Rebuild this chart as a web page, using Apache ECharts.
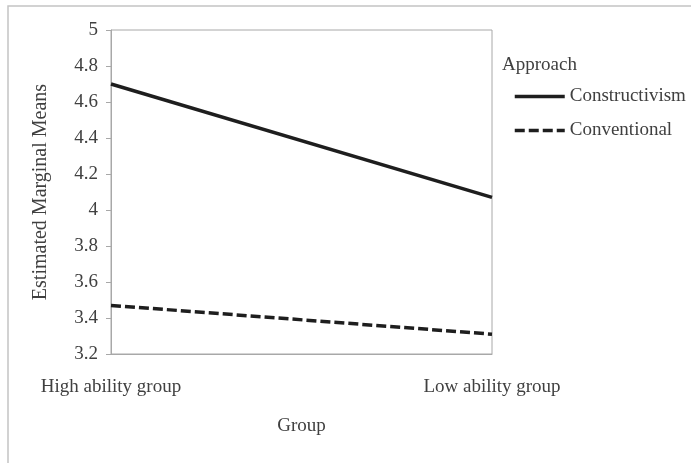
<!DOCTYPE html>
<html>
<head>
<meta charset="utf-8">
<script src="https://cdn.jsdelivr.net/npm/echarts@6/dist/echarts.min.js"></script>
<style>
html,body{margin:0;padding:0;background:#fff;}
#chart{width:691px;height:463px;}
</style>
</head>
<body>
<div id="chart"></div>
<script>
var categories = ['High ability group', 'Low ability group'];
var seriesNames = ['Constructivism', 'Conventional'];
var constructivism = [4.70, 4.07];
var conventional = [3.47, 3.31];
var yMin = 3.2, yMax = 5, yStep = 0.2;

var FONT = '"Liberation Serif", "Times New Roman", serif';
var TXT = '#404040';
var FS = 19;
var chart = echarts.init(document.getElementById('chart'), null, {renderer: 'canvas'});
chart.setOption({
  animation: false,
  backgroundColor: '#fff',
  textStyle: {fontFamily: FONT, color: TXT},
  graphic: [{
    type: 'rect', shape: {x: 8, y: 6, width: 700, height: 480},
    style: {fill: 'none', stroke: '#c4c4c4', lineWidth: 1.5}, z: -10
  }],
  title: {
    text: 'Approach', left: 497, top: 51,
    textStyle: {fontFamily: FONT, fontSize: FS, fontWeight: 'normal', color: TXT}
  },
  legend: {
    orient: 'vertical', left: 508, top: 82,
    itemWidth: 50, itemHeight: 14, itemGap: 15,
    textStyle: {fontFamily: FONT, fontSize: FS, color: TXT},
    itemStyle: {opacity: 0},
    lineStyle: {width: 3.5, color: '#1e1e1e'},
    data: seriesNames
  },
  grid: {
    left: 111, top: 30, right: 199, bottom: 109,
    show: true, borderColor: '#a8a8a8', borderWidth: 1, backgroundColor: 'transparent'
  },
  xAxis: {
    type: 'category', data: categories, boundaryGap: false,
    name: 'Group', nameLocation: 'middle', nameGap: 63,
    nameTextStyle: {fontFamily: FONT, fontSize: FS, color: TXT},
    axisLine: {lineStyle: {color: '#a8a8a8'}},
    axisTick: {show: false},
    axisLabel: {interval: 0, margin: 24, fontFamily: FONT, fontSize: FS, color: TXT}
  },
  yAxis: {
    type: 'value', min: yMin, max: yMax, interval: yStep,
    name: 'Estimated Marginal Means', nameLocation: 'middle', nameGap: 60,
    nameTextStyle: {fontFamily: FONT, fontSize: 20, color: TXT},
    axisLine: {show: true, lineStyle: {color: '#a8a8a8'}},
    axisTick: {show: true, length: 5, lineStyle: {color: '#a8a8a8'}},
    splitLine: {show: false},
    axisLabel: {margin: 13, fontFamily: FONT, fontSize: FS, color: TXT}
  },
  series: [{
    name: seriesNames[0], type: 'line', data: constructivism,
    symbol: 'none', lineStyle: {color: '#1e1e1e', width: 3.5, type: 'solid'},
    itemStyle: {color: '#1e1e1e'}
  }, {
    name: seriesNames[1], type: 'line', data: conventional,
    symbol: 'none', lineStyle: {color: '#1e1e1e', width: 3.5, type: [10, 4]},
    itemStyle: {color: '#1e1e1e'}
  }]
});
</script>
</body>
</html>
